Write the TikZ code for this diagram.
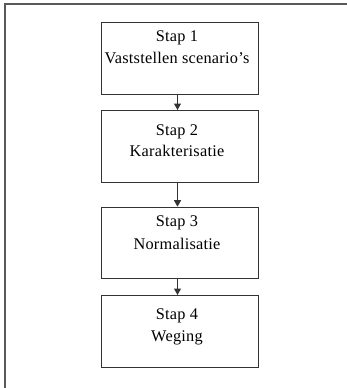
\documentclass[tikz,border=0pt]{standalone}
\usepackage{fontspec}
\setmainfont{Liberation Serif}[LetterSpace=1.5]
\usetikzlibrary{arrows.meta}
\begin{document}
\begin{tikzpicture}[x=1pt,y=-1pt,
  stepbox/.style={draw=black!80,line width=1pt,minimum width=157.6pt,inner sep=0pt,anchor=north west},
  steptext/.style={anchor=base,inner sep=0pt,text=black,font=\fontsize{16.3}{19}\selectfont},
  arr/.style={draw=black!80,line width=1pt,-{Triangle[width=7pt,length=6.5pt]}},
  frame/.style={draw=black!65,line width=1.5pt}]
\useasboundingbox (0,0) rectangle (347,388);
\fill[white] (0,0) rectangle (347,388);
\coordinate (fl) at (5,388);
\coordinate (fc) at (5,4);
\coordinate (fr) at (347,4);
\draw[frame] (fl) -- (fc) -- (fr);
\node[stepbox,minimum height=72.3pt] (b1) at (100.7,21.7) {};
\node[stepbox,minimum height=71.7pt] (b2) at (100.7,110) {};
\node[stepbox,minimum height=71pt] (b3) at (100.7,206.7) {};
\node[stepbox,minimum height=72.3pt] (b4) at (100.7,295) {};
\node[steptext] (t1a) at (177,41.7) {Stap 1};
\node[steptext] (t1b) at (177,63.3) {Vaststellen scenario’s};
\node[steptext] (t2a) at (177,135) {Stap 2};
\node[steptext] (t2b) at (177,156.7) {Karakterisatie};
\node[steptext] (t3a) at (177,226.7) {Stap 3};
\node[steptext] (t3b) at (177,249) {Normalisatie};
\node[steptext] (t4a) at (177,319) {Stap 4};
\node[steptext] (t4b) at (177,341.7) {Weging};
\draw[arr] ([xshift=-2.5pt]b1.south) -- ([xshift=-2.5pt]b2.north);
\draw[arr] ([xshift=-2.5pt]b2.south) -- ([xshift=-2.5pt]b3.north);
\draw[arr] ([xshift=-2.5pt]b3.south) -- ([xshift=-2.5pt]b4.north);
\end{tikzpicture}
\end{document}
